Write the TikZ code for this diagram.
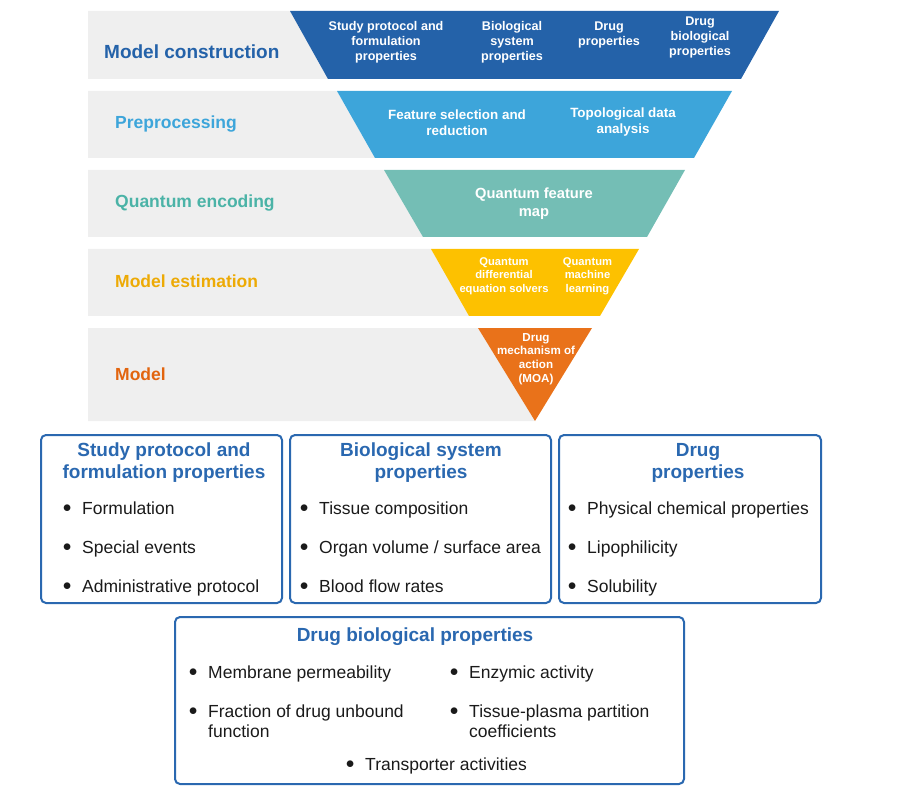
\documentclass[tikz,border=0pt]{standalone}
\usepackage{fontspec}
\setmainfont{Liberation Sans}
\definecolor{mcblue}{HTML}{2462A9}
\definecolor{ppblue}{HTML}{3DA5DA}
\definecolor{qeteal}{HTML}{74BEB5}
\definecolor{qetext}{HTML}{4BB3A7}
\definecolor{meyellow}{HTML}{FDC100}
\definecolor{metext}{HTML}{EDAA05}
\definecolor{mdorange}{HTML}{E9721A}
\definecolor{mdtext}{HTML}{E2640E}
\definecolor{bandgray}{HTML}{EFEFEF}
\definecolor{boxblue}{HTML}{2A68B0}
\definecolor{itemtext}{HTML}{1A1A1A}

\begin{document}
\begin{tikzpicture}[x=1pt,y=-1pt,
  band/.style={fill=bandgray},
  phase/.style={anchor=base west,inner sep=0pt,font=\fontsize{17.5}{21}\selectfont\bfseries},
  intext/.style={align=center,text=white,inner sep=0pt},
  box/.style={draw=boxblue,line width=2pt,rounded corners=5pt},
  boxtitle/.style={anchor=base,align=center,inner sep=0pt,text=boxblue,font=\fontsize{19}{22}\selectfont\bfseries},
  item/.style={anchor=base west,align=left,inner sep=0pt,text=itemtext,font=\fontsize{17.5}{20}\selectfont}]

\useasboundingbox (0,0) rectangle (904,791);

% funnel bands
\foreach \yt/\yb/\tl/\bl/\tr/\br/\c in {11/79/290/328/779/741/mcblue, 91/158/337/375/732/694/ppblue, 170/237/384/423/685/647/qeteal, 249/316/431/469/639/600/meyellow, 328/421/478/535/592/535/mdorange}{
  \fill[band] (88,\yt) -- (\tl,\yt) -- (\bl,\yb) -- (88,\yb) -- cycle;
  \fill[\c] (\tl,\yt) -- (\tr,\yt) -- (\br,\yb) -- (\bl,\yb) -- cycle;
}

\node[phase,text=mcblue,font=\fontsize{19}{22}\selectfont\bfseries] (mc) at (104,59) {Model construction};
\node[phase,text=ppblue] (pp) at (115,129) {Preprocessing};
\node[phase,text=qetext] (qe) at (115,208) {Quantum encoding};
\node[phase,text=metext] (me) at (115,288) {Model estimation};
\node[phase,text=mdtext] (md) at (115,380) {Model};

\node[intext,font=\fontsize{12.6}{15}\selectfont\bfseries] (mc-1) at (386,42.5) {Study protocol and\\formulation\\properties};
\node[intext,font=\fontsize{12.6}{15}\selectfont\bfseries] (mc-2) at (512,42.5) {Biological\\system\\properties};
\node[intext,font=\fontsize{12.6}{15}\selectfont\bfseries] (mc-3) at (609,35) {Drug\\properties};
\node[intext,font=\fontsize{12.6}{15}\selectfont\bfseries] (mc-4) at (700,37.5) {Drug\\biological\\properties};

\node[intext,font=\fontsize{13.4}{16}\selectfont\bfseries] (pp-1) at (457,122.5) {Feature selection and\\reduction};
\node[intext,font=\fontsize{13.4}{16}\selectfont\bfseries] (pp-2) at (623,122.5) {Topological data\\analysis};

\node[intext,font=\fontsize{14.7}{18}\selectfont\bfseries] (qe-1) at (534,204) {Quantum feature\\map};

\node[intext,font=\fontsize{11.2}{13.5}\selectfont\bfseries] (me-1) at (504,276) {Quantum\\differential\\equation solvers};
\node[intext,font=\fontsize{11.2}{13.5}\selectfont\bfseries] (me-2) at (587.5,276) {Quantum\\machine\\learning};

\node[intext,font=\fontsize{11.6}{13.7}\selectfont\bfseries] (md-1) at (536,359) {Drug\\mechanism of\\action\\(MOA)};

% property boxes
\draw[box] (41,435) rectangle (282,603);
\draw[box] (290,435) rectangle (551,603);
\draw[box] (559,435) rectangle (821,603);
\draw[box] (175,617) rectangle (684,784);

\node[boxtitle] (spf) at (164,478) {Study protocol and\\formulation properties};
\node[boxtitle] (bsp) at (421,478) {Biological system\\properties};
\node[boxtitle] (dp) at (698,478) {Drug\\properties};
\node[boxtitle] (dbp) at (415,641) {Drug biological properties};

\foreach \t [count=\i] in {Formulation, Special events, Administrative protocol}
  \node[item] (spf-\i) at (82,{514+39*(\i-1)}) {\llap{\raisebox{1.3pt}{$\bullet$}\hspace{10.6pt}}\t};
\foreach \t [count=\i] in {Tissue composition, Organ volume / surface area, Blood flow rates}
  \node[item] (bsp-\i) at (319,{514+39*(\i-1)}) {\llap{\raisebox{1.3pt}{$\bullet$}\hspace{10.6pt}}\t};
\foreach \t [count=\i] in {Physical chemical properties, Lipophilicity, Solubility}
  \node[item] (dp-\i) at (587,{514+39*(\i-1)}) {\llap{\raisebox{1.3pt}{$\bullet$}\hspace{10.6pt}}\t};

\node[item] (dbp-1) at (208,678) {\llap{\raisebox{1.3pt}{$\bullet$}\hspace{10.6pt}}Membrane permeability};
\node[item] (dbp-2) at (469,678) {\llap{\raisebox{1.3pt}{$\bullet$}\hspace{10.6pt}}Enzymic activity};
\node[item] (dbp-3) at (208,737) {\llap{\raisebox{1.3pt}{$\bullet$}\hspace{10.6pt}}Fraction of drug unbound\\function};
\node[item] (dbp-4) at (469,737) {\llap{\raisebox{1.3pt}{$\bullet$}\hspace{10.6pt}}Tissue-plasma partition\\coefficients};
\node[item] (dbp-5) at (365,770) {\llap{\raisebox{1.3pt}{$\bullet$}\hspace{10.6pt}}Transporter activities};

\end{tikzpicture}
\end{document}
